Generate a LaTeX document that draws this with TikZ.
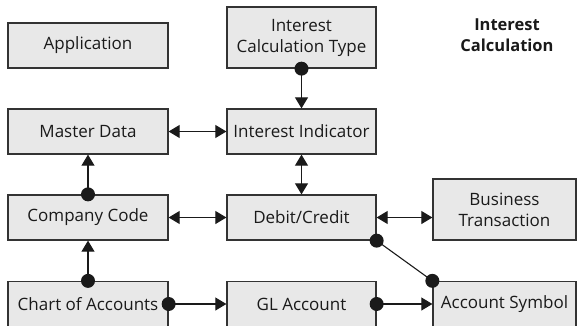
\documentclass[tikz,border=0pt]{standalone}
\usepackage{fontspec}
\setmainfont{Open Sans}
\usetikzlibrary{arrows.meta}
\definecolor{boxfill}{HTML}{E8E8E8}
\definecolor{boxline}{HTML}{333333}
\definecolor{ink}{HTML}{1A1A1A}
\tikzset{
  entity/.style={draw=boxline, fill=boxfill, line width=1.3pt, inner sep=0pt,
    align=center, font=\fontsize{17}{21}\selectfont, text=ink},
  wide/.style={entity, minimum width=160pt, minimum height=45pt},
  mid/.style={entity, minimum width=149pt, minimum height=45pt},
  link/.style={draw=ink, line width=1.1pt},
  onearrow/.style={link, -{Triangle[length=11pt,width=13pt]}},
  twoarrow/.style={link, {Triangle[length=11pt,width=13pt]}-{Triangle[length=11pt,width=13pt]}},
  dot/.style={fill=ink}
}
\begin{document}
\begin{tikzpicture}[x=1pt,y=1pt]
  \useasboundingbox (0,0) rectangle (578,325);
  \clip (0,0) rectangle (578,325);

  % boxes
  \node[wide] (app) at (88,279.5) {Application};
  \node[mid, minimum height=61pt] (ict) at (301.5,287.5) {Interest\\Calculation Type};
  \node[wide] (md) at (88,193.5) {Master Data};
  \node[mid] (ii) at (301.5,193.5) {Interest Indicator};
  \node[wide] (cc) at (88,107.5) {Company Code};
  \node[mid] (dc) at (301.5,107.5) {Debit/Credit};
  \node[entity, minimum width=143pt, minimum height=61pt] (bt) at (504.5,115.5) {Business\\Transaction};
  \node[wide] (coa) at (88,21) {Chart of Accounts};
  \node[mid] (gl) at (301.5,21) {GL Account};
  \node[entity, minimum width=143pt, minimum height=45pt] (as) at (504.5,21) {Account Symbol};

  % heading
  \node[align=center, font=\fontsize{16.5}{21}\selectfont\bfseries, text=ink] (title) at (507,289.5) {Interest\\Calculation};

  % connectors
  \draw[onearrow] (ict.south) -- (ii.north);
  \draw[twoarrow] (md.east) -- (ii.west);
  \draw[twoarrow] (ii.south) -- (dc.north);
  \draw[onearrow] (cc.north) -- (md.south);
  \draw[twoarrow] (cc.east) -- (dc.west);
  \draw[twoarrow] (dc.east) -- (bt.west |- dc.east);
  \draw[onearrow] (coa.north) -- (cc.south);
  \draw[onearrow] (coa.east) -- (gl.west);
  \draw[onearrow] (gl.east) -- (as.west);
  \draw[link] (dc.south east) -- (as.north west);

  % connector roots
  \foreach \p in {ict.south, cc.north, coa.north, coa.east, gl.east, dc.south east, as.north west}
    \fill[dot] (\p) circle (7pt);
\end{tikzpicture}
\end{document}
